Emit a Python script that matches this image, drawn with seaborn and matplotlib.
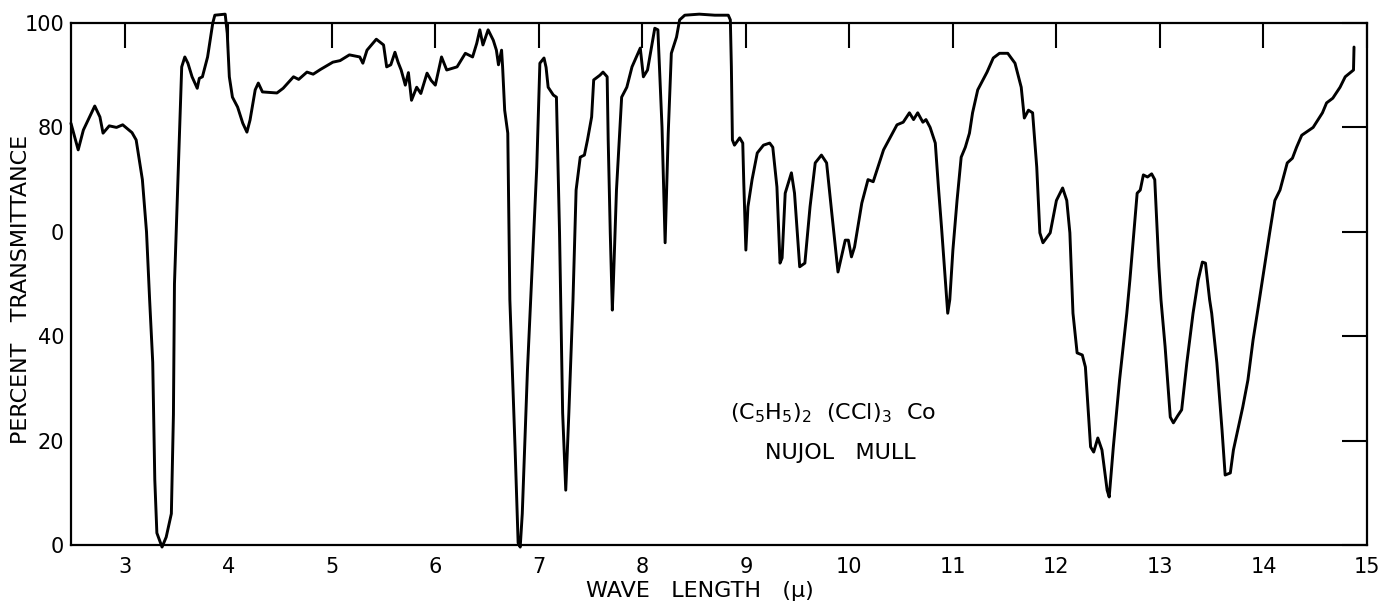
import matplotlib
matplotlib.use("Agg")
import matplotlib.pyplot as plt
import seaborn as sns
import pandas as pd

# ---- data ----
wavelength = [2.48, 2.55, 2.60, 2.71, 2.76, 2.79, 2.85, 2.92, 2.98, 3.07, 3.11, 3.17, 3.21, 3.24,
              3.27, 3.29, 3.31, 3.36, 3.40, 3.45, 3.47, 3.48, 3.53, 3.55, 3.58, 3.61, 3.65, 3.70,
              3.72, 3.75, 3.80, 3.85, 3.87, 3.97, 3.99, 4.01, 4.04, 4.09, 4.14, 4.18, 4.21, 4.26,
              4.29, 4.33, 4.47, 4.53, 4.63, 4.68, 4.76, 4.82, 4.89, 4.95, 5.01, 5.08, 5.17, 5.27,
              5.30, 5.34, 5.43, 5.50, 5.53, 5.57, 5.61, 5.64, 5.67, 5.71, 5.74, 5.77, 5.82, 5.86,
              5.92, 5.96, 6.00, 6.06, 6.11, 6.21, 6.29, 6.36, 6.40, 6.43, 6.46, 6.51, 6.56, 6.59,
              6.61, 6.64, 6.65, 6.67, 6.70, 6.72, 6.77, 6.80, 6.82, 6.84, 6.89, 6.93, 6.98, 7.01,
              7.05, 7.07, 7.09, 7.14, 7.17, 7.20, 7.23, 7.26, 7.29, 7.33, 7.36, 7.40, 7.44, 7.47,
              7.51, 7.53, 7.59, 7.62, 7.66, 7.67, 7.69, 7.71, 7.72, 7.75, 7.80, 7.85, 7.90, 7.98,
              8.01, 8.05, 8.12, 8.15, 8.19, 8.22, 8.25, 8.28, 8.33, 8.36, 8.41, 8.55, 8.70, 8.83,
              8.85, 8.86, 8.87, 8.89, 8.94, 8.97, 8.98, 9.00, 9.02, 9.06, 9.11, 9.17, 9.23, 9.26,
              9.30, 9.33, 9.35, 9.38, 9.44, 9.47, 9.52, 9.57, 9.62, 9.67, 9.73, 9.78, 9.83, 9.89,
              9.96, 9.99, 10.02, 10.05, 10.12, 10.18, 10.23, 10.33, 10.46, 10.52, 10.58, 10.62,
              10.66, 10.71, 10.74, 10.78, 10.83, 10.86, 10.89, 10.94, 10.95, 10.97, 11.00, 11.04,
              11.08, 11.12, 11.16, 11.19, 11.24, 11.33, 11.39, 11.45, 11.53, 11.60, 11.66, 11.69,
              11.73, 11.77, 11.81, 11.84, 11.87, 11.94, 12.00, 12.06, 12.10, 12.13, 12.16, 12.20,
              12.25, 12.28, 12.33, 12.36, 12.40, 12.44, 12.49, 12.51, 12.55, 12.61, 12.68, 12.71,
              12.78, 12.81, 12.84, 12.88, 12.92, 12.95, 12.99, 13.01, 13.05, 13.10, 13.13, 13.17,
              13.21, 13.26, 13.32, 13.37, 13.41, 13.44, 13.48, 13.50, 13.55, 13.60, 13.63, 13.68,
              13.71, 13.80, 13.85, 13.90, 13.95, 13.99, 14.01, 14.06, 14.11, 14.16, 14.23, 14.28,
              14.32, 14.37, 14.48, 14.57, 14.61, 14.67, 14.74, 14.79, 14.87, 14.875]
transmittance = [80.8, 75.7, 79.5, 84.1, 82.0, 78.9, 80.3, 80.0, 80.5, 79.0, 77.6, 70.0, 60.0, 47.0,
                 35.0, 12.5, 2.3, -0.4, 1.5, 6.0, 25.0, 50.0, 80.0, 91.6, 93.5, 92.3, 89.7, 87.5,
                 89.4, 89.7, 93.5, 100.0, 101.5, 101.7, 98.0, 89.7, 85.8, 83.9, 80.8, 79.1, 81.4, 87.2,
                 88.5, 86.8, 86.6, 87.5, 89.7, 89.2, 90.6, 90.2, 91.1, 91.8, 92.5, 92.8, 93.9, 93.5,
                 92.3, 94.8, 96.9, 95.8, 91.6, 92.0, 94.4, 92.5, 91.0, 88.1, 90.5, 85.2, 87.7, 86.5,
                 90.4, 89.0, 88.1, 93.5, 91.0, 91.6, 94.2, 93.5, 96.1, 98.7, 95.8, 98.7, 96.7, 94.8,
                 92.0, 94.8, 91.6, 83.3, 78.9, 47.0, 18.8, 0.4, -0.4, 6.0, 33.5, 50.8, 72.4, 92.3,
                 93.3, 91.5, 87.7, 86.2, 85.8, 59.8, 25.3, 10.5, 25.3, 47.0, 68.0, 74.3, 74.7, 77.6,
                 82.0, 89.1, 90.0, 90.6, 89.7, 77.6, 59.8, 45.0, 50.2, 68.0, 85.8, 87.7, 91.6, 95.2,
                 89.7, 91.0, 99.0, 98.7, 80.0, 57.9, 78.9, 94.2, 97.3, 100.6, 101.5, 101.7, 101.5, 101.5,
                 100.6, 91.6, 77.6, 76.6, 78.0, 77.0, 69.3, 56.5, 64.8, 70.0, 75.1, 76.6, 77.0, 76.2,
                 68.6, 54.0, 55.0, 67.4, 71.3, 67.4, 53.3, 54.0, 64.8, 73.2, 74.7, 73.2, 63.6, 52.3,
                 58.4, 58.4, 55.2, 57.1, 65.5, 70.0, 69.6, 75.7, 80.5, 81.0, 82.8, 81.5,
                 82.8, 81.0, 81.5, 80.0, 77.0, 68.6, 60.9, 47.0, 44.4, 47.0, 56.5, 66.0,
                 74.3, 76.2, 78.9, 82.8, 87.2, 90.6, 93.3, 94.2, 94.2, 92.3, 87.7, 81.8,
                 83.3, 82.8, 72.4, 59.8, 57.9, 59.8, 66.0, 68.4, 66.0, 59.8, 44.4, 36.8,
                 36.4, 34.1, 18.8, 17.8, 20.5, 18.2, 10.5, 9.2, 18.8, 31.6, 44.4, 50.8,
                 67.4, 68.0, 70.9, 70.5, 71.1, 70.0, 53.3, 47.0, 38.0, 24.5, 23.4, 24.7,
                 25.9, 34.9, 44.4, 50.8, 54.2, 54.0, 47.0, 44.4, 34.9, 22.0, 13.4, 13.8,
                 18.2, 26.4, 31.6, 39.3, 45.6, 50.8, 53.3, 59.8, 66.0, 68.0, 73.2, 74.1,
                 76.2, 78.5, 80.0, 82.8, 84.7, 85.6, 87.7, 89.7, 91.0, 95.4]

x_ticks = [3, 4, 5, 6, 7, 8, 9, 10, 11, 12, 13, 14, 15]
x_tick_labels = ["3", "4", "5", "6", "7", "8", "9", "10", "11", "12", "13", "14", "15"]
y_ticks = [0, 20, 40, 60, 80, 100]
y_tick_labels = ["0", "20", "40", "0", "80", "100"]
sample_lines = ["$(C_5H_5)_2\\ \\ (CCl)_3\\ \\ Co$", "NUJOL   MULL"]

df = pd.DataFrame({"wl": wavelength, "T": transmittance})

sns.set_style("white")
plt.rcParams["font.family"] = ["DejaVu Sans"]
plt.rcParams["mathtext.default"] = "regular"
plt.rcParams["text.color"] = "black"
plt.rcParams["axes.labelcolor"] = "black"

fig = plt.figure(figsize=(13.83, 6.06), dpi=100)
ax = fig.add_axes([0.0513, 0.1007, 0.9371, 0.8613])

sns.lineplot(data=df, x="wl", y="T", ax=ax, sort=False, estimator=None,
             color="black", linewidth=2.1)
for l in ax.lines:
    l.set_clip_on(False)

ax.set_xlim(2.48, 15)
ax.set_ylim(0, 100)
ax.set_xticks(x_ticks)
ax.set_xticklabels(x_tick_labels, fontsize=15)
ax.set_yticks(y_ticks)
ax.set_yticklabels(y_tick_labels, fontsize=15)
ax.tick_params(axis="both", direction="in", length=18, width=1.5,
               top=True, right=True, labeltop=False, labelright=False, colors="black")
ax.tick_params(axis="x", pad=9)
ax.tick_params(axis="y", pad=5)
for s in ax.spines.values():
    s.set_visible(True)
    s.set_color("black")
    s.set_linewidth(1.6)

ax.set_xlabel("WAVE   LENGTH   (μ)", fontsize=16)
ax.xaxis.set_label_coords((700 - 71) / 1296, -0.069)
ax.set_ylabel("PERCENT   TRANSMITTANCE", fontsize=16)
ax.yaxis.set_label_coords((31 - 71) / 1296, 0.49)

ax.text(9.84, 25.3, sample_lines[0], fontsize=16, ha="center", va="center")
ax.text(9.91, 17.6, sample_lines[1], fontsize=16, ha="center", va="center")

fig.savefig("out.png", dpi=100)
